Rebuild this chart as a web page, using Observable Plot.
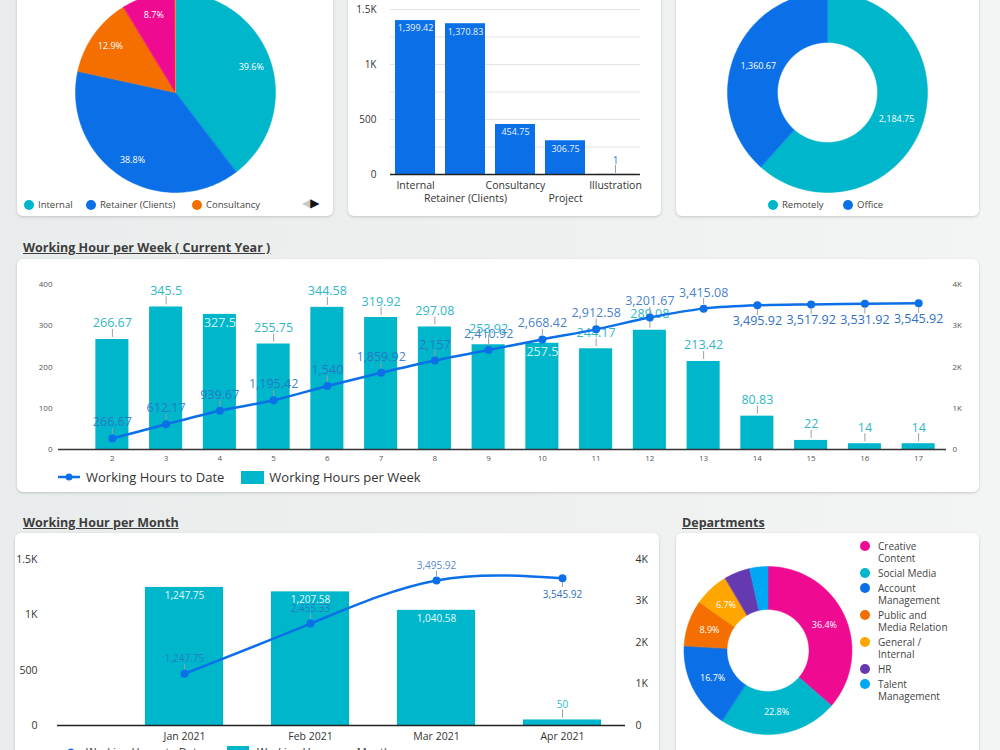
<!DOCTYPE html>
<html>
<head>
<meta charset="utf-8">
<script src="https://cdn.jsdelivr.net/npm/d3@7"></script>
<script src="https://cdn.jsdelivr.net/npm/@observablehq/plot@0.6"></script>
<style>
  body { margin: 0; }
  #page { position: relative; width: 1000px; height: 750px; overflow: hidden;
    background: linear-gradient(90deg, #e9ecec, #f3f4f4); font-family: "Open Sans", sans-serif; color: #333; }
  .card { position: absolute; background: #fff; border-radius: 6px; box-shadow: 0 1px 3px rgba(0,0,0,0.18); }
  .abs { position: absolute; }
  .title { position: absolute; font-weight: 700; font-size: 12.5px; color: #3d3d3d; text-decoration: underline; white-space: nowrap; line-height: 14px; }
  .leg { position: absolute; display: flex; align-items: center; white-space: nowrap; font-size: 9.5px; color: #444; line-height: 12px; }
  .dot { display: inline-block; width: 10px; height: 10px; border-radius: 50%; margin-right: 4px; flex: none; }
  .dept { position: absolute; left: 860px; top: 540px; display: flex; flex-direction: column; gap: 3px; }
  .dept .row { display: flex; align-items: flex-start; font-size: 10px; line-height: 12px; color: #444; }
  .dept .row .dot { margin-top: 1px; margin-right: 8px; }
  .dept .row span.t { width: 73px; }
</style>
</head>
<body>
<div id="page">
  <div class="card" style="left:17px;top:-30px;width:316px;height:246px"></div>
  <div class="card" style="left:348px;top:-30px;width:313px;height:246px"></div>
  <div class="card" style="left:676px;top:-30px;width:303px;height:246px"></div>
  <div class="title" style="left:23px;top:241px">Working Hour per Week ( Current Year )</div>
  <div class="card" style="left:17px;top:259px;width:962px;height:233px"></div>
  <div class="title" style="left:23px;top:516px">Working Hour per Month</div>
  <div class="card" style="left:15px;top:533px;width:644px;height:240px"></div>
  <div class="title" style="left:682px;top:516px">Departments</div>
  <div class="card" style="left:676px;top:533px;width:303px;height:240px"></div>
</div>
<script>
// ---- data ----
const workTypes = ["Internal", "Retainer (Clients)", "Consultancy", "Project", "Illustration"];
const workTypeHours = [1399.42, 1370.83, 454.75, 306.75, 1];

const locations = ["Remotely", "Office"];
const locationHours = [2184.75, 1360.67];

const weeks = [2, 3, 4, 5, 6, 7, 8, 9, 10, 11, 12, 13, 14, 15, 16, 17];
const weeklyHours = [266.67, 345.5, 327.5, 255.75, 344.58, 319.92, 297.08, 253.92, 257.5, 244.17, 289.08, 213.42, 80.83, 22, 14, 14];
const weeklyToDate = [266.67, 612.17, 939.67, 1195.42, 1540, 1859.92, 2157, 2410.92, 2668.42, 2912.58, 3201.67, 3415.08, 3495.92, 3517.92, 3531.92, 3545.92];

const months = ["Jan 2021", "Feb 2021", "Mar 2021", "Apr 2021"];
const monthlyHours = [1247.75, 1207.58, 1040.58, 50];
const monthlyToDate = [1247.75, 2455.33, 3495.92, 3545.92];

const departments = ["Creative Content", "Social Media", "Account Management", "Public and Media Relation", "General / Internal", "HR", "Talent Management"];
const departmentShare = [36.4, 22.8, 16.7, 8.9, 6.7, 5.0, 3.5];

// ---- palette & helpers ----
const TEAL = "#00b6cb", BLUE = "#0b70e8", PINK = "#ef0a92", ORANGE = "#f46e00",
      AMBER = "#ffa600", PURPLE = "#6539b0", SKY = "#00a8f3";
const BAR_LABEL = "#2fb7c7", BAR_LABEL_IN = "#cdf3f7", LINE_LABEL = "#2e6fc4", LEADER = "#9e9e9e";
const FONT = "'Open Sans', sans-serif";
const fmt = d3.format(",");
const fmtK = d => d === 0 ? "0" : d >= 1000 ? `${d / 1000}K` : `${d}`;
const page = document.getElementById("page");

function place(node, left, top) {
  const wrap = document.createElement("div");
  wrap.className = "abs";
  wrap.style.left = left + "px";
  wrap.style.top = top + "px";
  wrap.appendChild(node);
  page.appendChild(wrap);
  return wrap;
}
function html(markup) {
  const d = document.createElement("div");
  d.innerHTML = markup;
  while (d.firstChild) page.appendChild(d.firstChild);
}
const baseStyle = {background: "transparent", fontFamily: FONT, overflow: "visible"};

// short grey connector between a mark and its value label
function leaderAbove(data, x, y, gap, len) {
  return Plot.ruleX(data, {x, y1: y, y2: y, insetTop: -gap, insetBottom: gap + len, stroke: LEADER, strokeWidth: 1});
}
function leaderBelow(data, x, y, gap, len) {
  return Plot.ruleX(data, {x, y1: y, y2: y, insetTop: gap, insetBottom: -(gap + len), stroke: LEADER, strokeWidth: 1});
}

// outline points of each pie / donut slice
function ringGeometry(names, values, outer, inner) {
  const arcs = d3.pie().sort(null)(values);
  const outline = [];
  arcs.forEach((a, i) => {
    const steps = Math.max(2, Math.ceil((a.endAngle - a.startAngle) / 0.02));
    const ts = d3.range(steps + 1).map(k => a.startAngle + (a.endAngle - a.startAngle) * k / steps);
    ts.forEach(t => outline.push({name: names[i], x: outer * Math.sin(t), y: -outer * Math.cos(t)}));
    if (inner > 0) ts.slice().reverse().forEach(t => outline.push({name: names[i], x: inner * Math.sin(t), y: -inner * Math.cos(t)}));
    else outline.push({name: names[i], x: 0, y: 0});
  });
  return {arcs, outline};
}

function ringPlot({names, values, colors, width, height, cx, cy, outer, inner, labelRadius, label, fontSize}) {
  const {arcs, outline} = ringGeometry(names, values, outer, inner);
  const labels = arcs.map((a, i) => {
    const m = (a.startAngle + a.endAngle) / 2;
    return {x: labelRadius * Math.sin(m), y: -labelRadius * Math.cos(m), text: label(values[i], i)};
  }).filter(d => d.text);
  return Plot.plot({
    width, height, margin: 0, style: baseStyle,
    x: {domain: [-cx, width - cx], range: [0, width], axis: null},
    y: {domain: [-cy, height - cy], range: [0, height], axis: null},
    color: {domain: names, range: colors},
    marks: [
      Plot.line(outline, {x: "x", y: "y", z: "name", fill: "name", stroke: "name", strokeWidth: 0.5, curve: "linear-closed"}),
      Plot.text(labels, {x: "x", y: "y", text: "text", fill: "white", fontSize})
    ]
  });
}

// ---- work type pie ----
const workTotal = d3.sum(workTypeHours);
place(ringPlot({
  names: workTypes, values: workTypeHours, colors: [TEAL, BLUE, ORANGE, PINK, AMBER],
  width: 316, height: 200, cx: 158, cy: 92, outer: 100, inner: 0, labelRadius: 80, fontSize: 9,
  label: v => v / workTotal >= 0.05 ? d3.format(".1%")(v / workTotal) : null
}), 17, 0);
html(`
  <div class="leg" style="left:24px;top:199px"><span class="dot" style="background:${TEAL}"></span>${workTypes[0]}</div>
  <div class="leg" style="left:86px;top:199px"><span class="dot" style="background:${BLUE}"></span>${workTypes[1]}</div>
  <div class="leg" style="left:192px;top:199px"><span class="dot" style="background:${ORANGE}"></span>${workTypes[2]}</div>
  <div class="leg" style="left:302px;top:197px;font-family:'DejaVu Sans';font-size:12px;letter-spacing:-1px"><span style="color:#c8c8c8">◀</span><span style="color:#111">▶</span></div>
`);

// ---- work type bars ----
const workData = workTypes.map((name, i) => ({name, hours: workTypeHours[i]}));
const workIn = workData.filter(d => d.hours > 200), workOut = workData.filter(d => d.hours <= 200);
place(Plot.plot({
  width: 313, height: 210, marginTop: 9, marginBottom: 36, marginLeft: 42, marginRight: 21, style: baseStyle,
  x: {domain: workTypes, paddingInner: 0.2, paddingOuter: 0.1, round: false},
  y: {domain: [0, 1500]},
  marks: [
    Plot.gridY({ticks: [250, 500, 750, 1000, 1250, 1500], stroke: "#e4e4e4", strokeOpacity: 1}),
    Plot.axisY({ticks: [0, 500, 1000, 1500], tickFormat: fmtK, tickSize: 0, tickPadding: 14, fontSize: 10, fill: "#333", label: null}),
    Plot.barY(workData, {x: "name", y: "hours", fill: BLUE}),
    Plot.ruleY([0], {stroke: "#222", strokeWidth: 1.5}),
    Plot.axisX({ticks: workTypes.filter((d, i) => i % 2 === 0), tickSize: 0, tickPadding: 7, fontSize: 10.5, fill: "#333", label: null}),
    Plot.axisX({ticks: workTypes.filter((d, i) => i % 2 === 1), tickSize: 0, tickPadding: 20, fontSize: 10.5, fill: "#333", label: null}),
    Plot.text(workIn, {x: "name", y: "hours", text: d => fmt(d.hours), dy: 8, fill: "#e8f1ff", fontSize: 9}),
    leaderAbove(workOut, "name", "hours", 1, 8),
    Plot.text(workOut, {x: "name", y: "hours", text: d => fmt(d.hours), dy: -14, fill: "#3a7bd5", fontSize: 10})
  ]
}), 348, 0);

// ---- location donut ----
place(ringPlot({
  names: locations, values: locationHours, colors: [TEAL, BLUE],
  width: 303, height: 200, cx: 151, cy: 92, outer: 100, inner: 50, labelRadius: 74, fontSize: 9,
  label: v => fmt(v)
}), 676, 0);
html(`
  <div class="leg" style="left:768px;top:199px"><span class="dot" style="background:${TEAL}"></span>${locations[0]}</div>
  <div class="leg" style="left:843px;top:199px"><span class="dot" style="background:${BLUE}"></span>${locations[1]}</div>
`);

// ---- weekly combo chart (bars on the left axis, running total on the right axis) ----
const weekData = weeks.map((week, i) => ({week, hours: weeklyHours[i], toDate: weeklyToDate[i]}));
const insideLabelWeeks = [4, 10];
const weekBarIn = weekData.filter(d => insideLabelWeeks.includes(d.week));
const weekBarOut = weekData.filter(d => !insideLabelWeeks.includes(d.week));
const weekLineUp = weekData.filter(d => d.hours >= 100);
const weekLineDown = weekData.filter(d => d.hours < 100);
const weekFrame = {width: 962, height: 233, marginTop: 25, marginBottom: 43, marginLeft: 41, marginRight: 33, style: baseStyle};
const weekX = {type: "band", domain: weeks, paddingInner: 0.385, paddingOuter: 0.1925, insetLeft: 27, insetRight: 1, round: false};

place(Plot.plot({
  ...weekFrame,
  x: weekX,
  y: {domain: [0, 400]},
  marks: [
    Plot.barY(weekData, {x: "week", y: "hours", fill: TEAL}),
    Plot.ruleY([0], {stroke: "#333", strokeWidth: 1.5}),
    Plot.axisY({ticks: [0, 100, 200, 300, 400], tickSize: 0, tickPadding: 6, fontSize: 8, fill: "#555", label: null}),
    Plot.axisX({tickSize: 0, tickPadding: 6, fontSize: 8, fill: "#555", label: null}),
    leaderAbove(weekBarOut, "week", "hours", 2, 8),
    Plot.text(weekBarOut, {x: "week", y: "hours", text: d => fmt(d.hours), dy: -16, fill: BAR_LABEL, fontSize: 12.5}),
    Plot.text(weekBarIn, {x: "week", y: "hours", text: d => fmt(d.hours), dy: 9, fill: BAR_LABEL_IN, fontSize: 12.5})
  ]
}), 17, 259);

place(Plot.plot({
  ...weekFrame,
  x: {...weekX, axis: null},
  y: {domain: [0, 4000]},
  marks: [
    Plot.axisY({anchor: "right", ticks: [0, 1000, 2000, 3000, 4000], tickFormat: fmtK, tickSize: 0, tickPadding: 6, fontSize: 8, fill: "#555", label: null}),
    Plot.line(weekData, {x: "week", y: "toDate", stroke: BLUE, strokeWidth: 2.5, curve: "monotone-x"}),
    Plot.dot(weekData, {x: "week", y: "toDate", fill: BLUE, r: 4}),
    leaderAbove(weekLineUp, "week", "toDate", 4, 6),
    leaderBelow(weekLineDown, "week", "toDate", 4, 6),
    Plot.text(weekLineUp, {x: "week", y: "toDate", text: d => fmt(d.toDate), dy: -16, fill: LINE_LABEL, fillOpacity: 0.9, fontSize: 12.5}),
    Plot.text(weekLineDown, {x: "week", y: "toDate", text: d => fmt(d.toDate), dy: 16, fill: LINE_LABEL, fontSize: 12.5})
  ]
}), 17, 259);

html(`
  <div class="leg" style="left:58px;top:469px;font-size:13px;color:#333;line-height:16px">
    <svg width="22" height="10" style="margin-right:6px"><line x1="0" y1="5" x2="22" y2="5" stroke="${BLUE}" stroke-width="2.5"/><circle cx="11" cy="5" r="3.5" fill="${BLUE}"/></svg>Working Hours to Date
    <span style="display:inline-block;width:23px;height:13px;background:${TEAL};margin-left:17px;margin-right:5px"></span>Working Hours per Week
  </div>
`);

// ---- monthly combo chart ----
const monthData = months.map((month, i) => ({month, hours: monthlyHours[i], toDate: monthlyToDate[i]}));
const monthBarIn = monthData.filter(d => d.hours > 200), monthBarOut = monthData.filter(d => d.hours <= 200);
const monthLineUp = monthData.filter(d => d.hours >= 100), monthLineDown = monthData.filter(d => d.hours < 100);
const monthFrame = {width: 644, height: 217, marginTop: 26, marginBottom: 25, marginLeft: 42, marginRight: 34, style: baseStyle};
const monthX = {type: "band", domain: months, paddingInner: 0.38, paddingOuter: 0.19, insetLeft: 64, round: false};

place(Plot.plot({
  ...monthFrame,
  x: monthX,
  y: {domain: [0, 1500]},
  marks: [
    Plot.barY(monthData, {x: "month", y: "hours", fill: TEAL}),
    Plot.ruleY([0], {stroke: "#222", strokeWidth: 1.5}),
    Plot.axisY({ticks: [0, 500, 1000, 1500], tickFormat: fmtK, tickSize: 0, tickPadding: 20, fontSize: 10.5, fill: "#333", label: null}),
    Plot.axisX({tickSize: 0, tickPadding: 7, fontSize: 10.5, fill: "#333", label: null}),
    Plot.text(monthBarIn, {x: "month", y: "hours", text: d => fmt(d.hours), dy: 8, fill: "#e6f8fa", fontSize: 10}),
    leaderAbove(monthBarOut, "month", "hours", 2, 8),
    Plot.text(monthBarOut, {x: "month", y: "hours", text: d => fmt(d.hours), dy: -15, fill: BAR_LABEL, fontSize: 10})
  ]
}), 15, 533);

place(Plot.plot({
  ...monthFrame,
  x: {...monthX, axis: null},
  y: {domain: [0, 4000]},
  marks: [
    Plot.axisY({anchor: "right", ticks: [0, 1000, 2000, 3000, 4000], tickFormat: fmtK, tickSize: 0, tickPadding: 10, fontSize: 10.5, fill: "#333", label: null}),
    Plot.line(monthData, {x: "month", y: "toDate", stroke: BLUE, strokeWidth: 2.5, curve: "natural"}),
    Plot.dot(monthData, {x: "month", y: "toDate", fill: BLUE, r: 4}),
    leaderAbove(monthLineUp, "month", "toDate", 4, 5),
    leaderBelow(monthLineDown, "month", "toDate", 4, 5),
    Plot.text(monthLineUp, {x: "month", y: "toDate", text: d => fmt(d.toDate), dy: -15, fill: LINE_LABEL, fillOpacity: 0.85, fontSize: 10}),
    Plot.text(monthLineDown, {x: "month", y: "toDate", text: d => fmt(d.toDate), dy: 16, fill: LINE_LABEL, fontSize: 10})
  ]
}), 15, 533);

html(`
  <div class="leg" style="left:60px;top:745px;font-size:11px;color:#333;line-height:14px">
    <svg width="22" height="10" style="margin-right:4px"><line x1="0" y1="5" x2="22" y2="5" stroke="${BLUE}" stroke-width="2.5"/><circle cx="11" cy="5" r="3.5" fill="${BLUE}"/></svg>Working Hours to Date
    <span style="display:inline-block;width:22px;height:12px;background:${TEAL};margin-left:24px;margin-right:8px"></span>Working Hours per Month
  </div>
`);

// ---- departments donut ----
const deptColors = [PINK, TEAL, BLUE, ORANGE, AMBER, PURPLE, SKY];
place(ringPlot({
  names: departments, values: departmentShare, colors: deptColors,
  width: 190, height: 217, cx: 91.5, cy: 117, outer: 84, inner: 41, labelRadius: 62, fontSize: 9,
  label: v => v >= 6 ? `${v.toFixed(1)}%` : null
}), 676, 533);
html(`<div class="dept">${departments.map((d, i) =>
  `<div class="row"><span class="dot" style="background:${deptColors[i]}"></span><span class="t">${d}</span></div>`).join("")}</div>`);
</script>
</body>
</html>
